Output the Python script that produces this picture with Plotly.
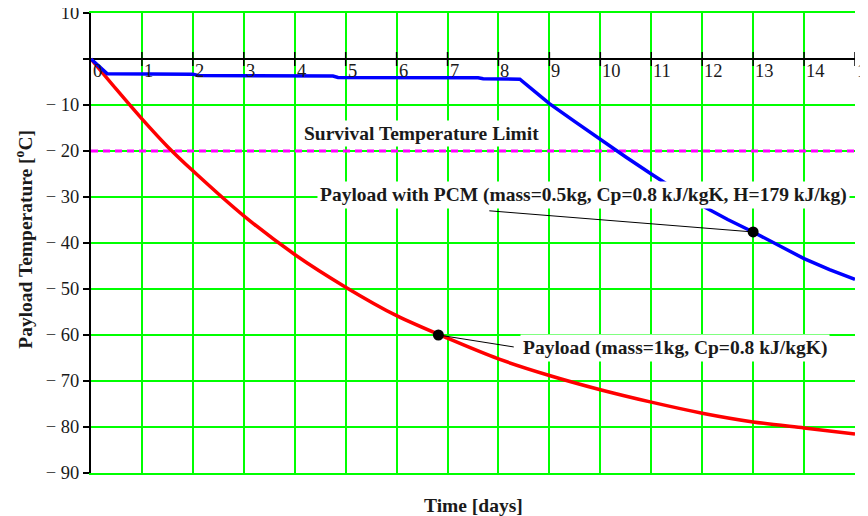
import plotly.graph_objects as go

# ---------------- data ----------------
days_ticks = list(range(0, 16))
temp_ticks = [10, 0, -10, -20, -30, -40, -50, -60, -70, -80, -90]
temp_tick_text = ["10", "", "\u2212 10", "\u2212 20", "\u2212 30", "\u2212 40",
                  "\u2212 50", "\u2212 60", "\u2212 70", "\u2212 80", "\u2212 90"]

# Payload without PCM (red)
red_t = [0, 0.5, 1, 1.5, 2, 3, 4, 5, 6, 7, 8, 9, 10, 11, 12, 13, 14, 15]
red_T = [0, -6.6, -13.0, -19.0, -24.3, -34.1, -42.5, -49.6, -55.8, -60.7,
         -65.2, -68.8, -71.9, -74.6, -77.0, -78.9, -80.2, -81.5]

# Payload with PCM (blue)
blue_t = [0, 0.32, 2.0, 2.1, 4.75, 4.85, 7.6, 7.7, 8.42, 9.0, 9.5, 10.0, 10.5,
          11.0, 11.5, 12.0, 12.5, 13.0, 13.5, 14.0, 14.5, 15.0]
blue_T = [0, -3.2, -3.3, -3.6, -3.7, -4.0, -4.1, -4.3, -4.4, -9.7, -13.6, -17.5,
          -21.3, -25.0, -28.6, -31.9, -34.9, -37.6, -40.6, -43.4, -45.8, -47.9]

survival_limit = -20
limit_t = [0, 15]

# labelled points and where their leader lines end
red_point = (6.82, -60.0)
red_label_end = (8.3, -62.6)
blue_point = (13.0, -37.6)
blue_label_end = (7.82, -33.0)

red_label = "Payload (mass=1kg, Cp=0.8 kJ/kgK)"
blue_label = "Payload with PCM (mass=0.5kg, Cp=0.8 kJ/kgK, H=179 kJ/kg)"
limit_label = "Survival Temperature Limit"

SERIF = "Liberation Serif, Times New Roman, serif"
GREEN = "#00FF00"
TXT = "#1a1a1a"
LBL = 19.5

fig = go.Figure()

# survival limit
fig.add_trace(go.Scatter(x=limit_t, y=[survival_limit] * len(limit_t), mode="lines",
                         line=dict(color="#FF00FF", width=3, dash="7px,5px"),
                         hoverinfo="skip", showlegend=False))

# curves
fig.add_trace(go.Scatter(x=red_t, y=red_T, mode="lines",
                         line=dict(color="#FF0000", width=3.5, shape="spline", smoothing=0.8),
                         showlegend=False))
fig.add_trace(go.Scatter(x=blue_t, y=blue_T, mode="lines",
                         line=dict(color="#0000FF", width=3.5),
                         showlegend=False))

# leader lines
for p, e in [(red_point, red_label_end), (blue_point, blue_label_end)]:
    fig.add_trace(go.Scatter(x=[p[0], e[0]], y=[p[1], e[1]], mode="lines",
                             line=dict(color="black", width=1),
                             hoverinfo="skip", showlegend=False))

# points
fig.add_trace(go.Scatter(x=[red_point[0], blue_point[0]], y=[red_point[1], blue_point[1]],
                         mode="markers", marker=dict(color="black", size=11),
                         showlegend=False))

# tick crosses on zero line
fig.add_trace(go.Scatter(x=days_ticks[1:], y=[0] * (len(days_ticks) - 1), mode="markers",
                         marker=dict(symbol="line-ns", size=10,
                                     line=dict(color="black", width=1.5)),
                         hoverinfo="skip", showlegend=False))

annotations = []
# x tick labels along zero line
for d in days_ticks:
    annotations.append(dict(x=d, y=0, xref="x", yref="y", text=str(d), showarrow=False,
                            xanchor="left", yanchor="top", xshift=0, yshift=0,
                            font=dict(family=SERIF, size=18.5, color=TXT)))

annotations += [
    dict(x=6.49, y=-16.1, xref="x", yref="y", text="<b>" + limit_label + "</b>",
         showarrow=False, bgcolor="white", borderpad=2,
         font=dict(family=SERIF, size=LBL, color=TXT)),
    dict(x=9.66, y=-29.6, xref="x", yref="y", text="<b>" + blue_label + "</b>",
         showarrow=False, bgcolor="white", borderpad=2,
         font=dict(family=SERIF, size=LBL, color=TXT)),
    dict(x=8.42, y=-62.8, xref="x", yref="y",
         text="<b>" + red_label + "</b>", showarrow=False, bgcolor="white",
         xanchor="left", borderpad=2,
         font=dict(family=SERIF, size=LBL, color=TXT)),
    dict(x=0.5, y=-0.0696, xref="paper", yref="paper", text="<b>Time [days]</b>",
         showarrow=False, xanchor="center", yanchor="middle", borderpad=0,
         font=dict(family=SERIF, size=LBL, color=TXT)),
    dict(x=-0.088, y=0.5087, xref="paper", yref="paper",
         text="<b>Payload Temperature [<sup>o</sup>C]</b>", textangle=-90,
         showarrow=False, xanchor="center", yanchor="middle",
         font=dict(family=SERIF, size=LBL, color=TXT)),
]

# page body has an 8px margin: the figure is shrunk and offset so that
# the plot area sits where it does in the 868x516 reference.
fig.update_layout(
    width=860, height=508,
    margin=dict(l=83, r=13, t=5, b=43, autoexpand=False),
    paper_bgcolor="white", plot_bgcolor="white",
    annotations=annotations,
    xaxis=dict(range=[0, 15], tickvals=days_ticks, showticklabels=False,
               showgrid=True, gridcolor=GREEN, gridwidth=2,
               showline=True, linecolor=GREEN, linewidth=2, mirror=True,
               zeroline=False, ticks="", automargin=False),
    yaxis=dict(range=[-90, 10], tickvals=temp_ticks, ticktext=temp_tick_text,
               showgrid=True, gridcolor=GREEN, gridwidth=2,
               zeroline=True, zerolinecolor="black", zerolinewidth=2,
               showline=True, linecolor="black", linewidth=2,
               ticks="outside", ticklen=6, tickcolor="black", tickwidth=1.5,
               automargin=False, ticklabeloverflow="allow",
               tickfont=dict(family=SERIF, size=18.5, color=TXT)),
)

fig.write_html("out.html")
